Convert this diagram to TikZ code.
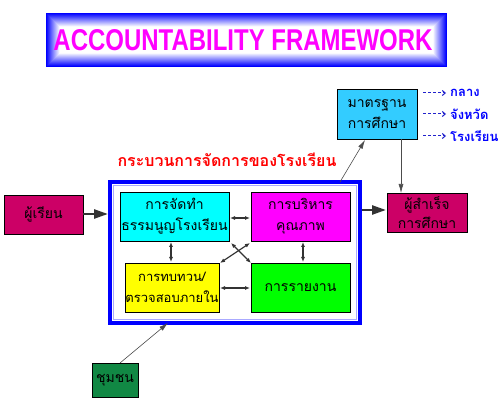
\documentclass[tikz,border=0pt]{standalone}
\usepackage{fontspec}
\usepackage{graphicx}
\setmainfont{Liberation Sans}
\newfontfamily\thaifont[Script=Thai]{Loma}
\usetikzlibrary{arrows.meta}
\definecolor{cyanbox}{HTML}{00FFFF}
\definecolor{stdbox}{HTML}{33CCFF}
\definecolor{crim}{HTML}{CC0066}
\definecolor{dgreen}{HTML}{118844}
\definecolor{tblue}{HTML}{0000FF}
\definecolor{lblue}{HTML}{2222CC}
\definecolor{magbox}{HTML}{FF00FF}
\definecolor{yelbox}{HTML}{FFFF00}
\definecolor{grnbox}{HTML}{00FF00}
\definecolor{redtxt}{HTML}{FF0000}
\definecolor{litblue}{HTML}{AAAAFF}
\tikzset{
  txt/.style={font=\thaifont\fontsize{14}{21}\selectfont, align=center, text=black},
  dbl/.style={{Latex[length=5pt,width=4pt]}-{Latex[length=5pt,width=4pt]}, line width=1.2pt, draw=black!80},
  thin/.style={-{Latex[length=9pt,width=5pt]}, line width=0.6pt, draw=black!70},
  thick/.style={-{Triangle[length=14pt,width=9pt]}, line width=2.5pt, draw=black!80},
  lab/.style={anchor=west, font=\thaifont\bfseries\fontsize{13}{15}\selectfont, text=tblue, inner sep=0},
}
\begin{document}
\begin{tikzpicture}[x=1pt,y=-1pt]
\useasboundingbox (0,0) rectangle (500,411);
% title gradient box
\foreach \i in {0,...,13}{
  \pgfmathsetmacro{\c}{100-\i*7.5}
  \fill[tblue!\c!white] (46+\i,13+\i) rectangle (447-\i,67-\i);
}
\fill[white] (60,27) rectangle (433,53);
\node (title) at (243,40) {\resizebox{379pt}{21pt}{\color{magbox}\bfseries ACCOUNTABILITY FRAMEWORK}};
% standards box
\fill[stdbox] (337,89) rectangle (417,139);
\draw[line width=0.8pt] (337,89) rectangle (417,139);
\node[txt] (std) at (377,114) {มาตรฐาน\\การศึกษา};
% labels right
\node[lab] (l1) at (450,93) {กลาง};
\node[lab] (l2) at (450,114) {จังหวัด};
\node[lab] (l3) at (450,136) {โรงเรียน};
\foreach \n in {l1,l2,l3}{
  \draw[lblue, line width=1pt, dash pattern=on 3pt off 2pt, -{Straight Barb[length=3pt,width=5pt]}] ([xshift=-27pt]\n.west) -- ([xshift=-4pt]\n.west);
}
% red title
\node[font=\thaifont\bfseries\fontsize{16}{18}\selectfont, text=redtxt] (proc) at (227,160) {กระบวนการจัดการของโรงเรียน};
% big box
\draw[tblue, line width=4pt] (110,182) rectangle (360,323);
\draw[litblue, line width=1.5pt] (113.5,185.5) rectangle (356.5,319.5);
\coordinate (bigTR) at (340,182);
\coordinate (bigB) at (168,323);
\coordinate (bigL) at (108,214);
\coordinate (bigR) at (362,210);
% inner boxes
\fill[cyanbox] (120,192) rectangle (229,241); \draw[line width=0.8pt] (120,192) rectangle (229,241);
\node[txt] (a) at (174.5,216.5) {การจัดทำ\\ธรรมนูญโรงเรียน};
\fill[magbox] (251,192) rectangle (350,241); \draw[line width=0.8pt] (251,192) rectangle (350,241);
\node[txt] (b) at (300.5,216.5) {การบริหาร\\คุณภาพ};
\fill[yelbox] (125,263) rectangle (219,312); \draw[line width=0.8pt] (125,263) rectangle (219,312);
\node[txt, font=\thaifont\fontsize{13}{21}\selectfont] (c) at (172,287.5) {การทบทวน/\\ตรวจสอบภายใน};
\fill[grnbox] (251,263) rectangle (350,312); \draw[line width=0.8pt] (251,263) rectangle (350,312);
\node[txt] (d) at (300.5,287.5) {การรายงาน};
\coordinate (aR) at (230,218); \coordinate (bL) at (250,218);
\coordinate (aB) at (171,242); \coordinate (cT) at (171,262);
\coordinate (bB) at (303,242); \coordinate (dT) at (303,262);
\coordinate (cR) at (220,288); \coordinate (dL) at (250,288);
\coordinate (aBR) at (231,243); \coordinate (dTL) at (251,263);
\coordinate (bBL) at (250,243); \coordinate (cTR) at (220,263);
\draw[dbl] (aR) -- (bL);
\draw[dbl] (aB) -- (cT);
\draw[dbl] (bB) -- (dT);
\draw[dbl] (cR) -- (dL);
\draw[dbl] (aBR) -- (dTL);
\draw[dbl] (bBL) -- (cTR);
% learners
\fill[crim] (4,195) rectangle (83,234); \draw[line width=0.8pt] (4,195) rectangle (83,234);
\node[txt] (learn) at (43.5,214.5) {ผู้เรียน};
\coordinate (learnR) at (83,214);
% graduates
\fill[crim] (387,193) rectangle (467,232); \draw[line width=0.8pt] (387,193) rectangle (467,232);
\node[txt, font=\thaifont\fontsize{14}{19}\selectfont] (grad) at (427,212.5) {ผู้สำเร็จ\\การศึกษา};
\coordinate (gradL) at (386,210);
\coordinate (gradT) at (401,193);
\coordinate (stdB) at (401,139);
\coordinate (stdBL) at (365,140);
% community
\fill[dgreen] (92,363) rectangle (138,397); \draw[line width=0.8pt] (92,363) rectangle (138,397);
\node[txt] (comm) at (115,380) {ชุมชน};
\coordinate (commT) at (120,363);
% connectors
\draw[thick] (learnR) -- (bigL);
\draw[thick] (bigR) -- (gradL);
\draw[thin] (stdB) -- (gradT);
\draw[thin] (bigTR) -- (stdBL);
\draw[thin] (commT) -- (bigB);
\end{tikzpicture}
\end{document}
